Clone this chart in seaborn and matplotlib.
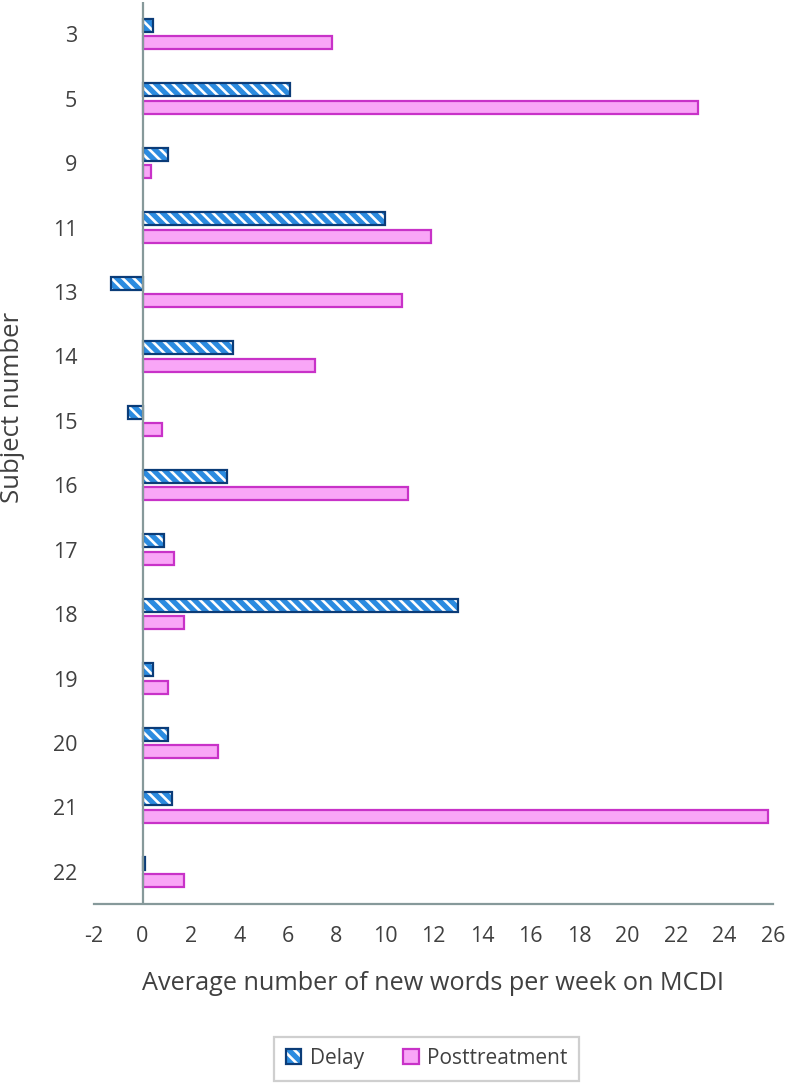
import matplotlib
matplotlib.use("Agg")
import matplotlib.pyplot as plt
from matplotlib.patches import Patch, Rectangle
from matplotlib.legend_handler import HandlerTuple
import seaborn as sns
import pandas as pd

subjects = ["3", "5", "9", "11", "13", "14", "15", "16", "17", "18", "19", "20", "21", "22"]
delay = [0.45, 6.1, 1.07, 10.0, -1.3, 3.75, -0.58, 3.5, 0.87, 13.0, 0.45, 1.07, 1.2, 0.12]
posttreatment = [7.8, 22.9, 0.33, 11.9, 10.7, 7.1, 0.8, 10.95, 1.28, 1.73, 1.07, 3.1, 25.8, 1.73]
series = ["Delay", "Posttreatment"]
xticks = list(range(-2, 27, 2))

DELAY_FILL = "#2b8be0"
DELAY_EDGE = "#0b3c78"
POST_FILL = "#f9a6f7"
POST_EDGE = "#c832c8"
AXIS_GREY = "#86999a"
TEXT = "#404040"
HATCH = "\\\\\\"

sns.set_theme(style="white")
plt.rcParams["font.family"] = ["Open Sans", "DejaVu Sans"]
plt.rcParams["hatch.linewidth"] = 1.9

df = pd.DataFrame({
    "Subject": subjects * 2,
    "Value": delay + posttreatment,
    "Series": [series[0]] * len(subjects) + [series[1]] * len(subjects),
})

fig = plt.figure(figsize=(7.87, 10.84), dpi=100)
ax = fig.add_axes([94 / 787, 1 - 904 / 1084, (773 - 94) / 787, (904 - 2) / 1084])

sns.barplot(data=df, x="Value", y="Subject", hue="Series", order=subjects,
            hue_order=series, orient="h", width=0.54, gap=0.25,
            palette=[DELAY_FILL, POST_FILL], ax=ax, legend=False, errorbar=None)

# style delay bars: white diagonal hatch + navy outline
for p in ax.containers[0]:
    p.set_facecolor(DELAY_FILL)
    p.set_edgecolor("white")
    p.set_hatch(HATCH)
    p.set_linewidth(0)
    ax.add_patch(Rectangle(p.get_xy(), p.get_width(), p.get_height(),
                           fill=False, edgecolor=DELAY_EDGE, linewidth=1.6, zorder=p.get_zorder() + 0.1))
for p in ax.containers[1]:
    p.set_facecolor(POST_FILL)
    p.set_edgecolor(POST_EDGE)
    p.set_linewidth(1.6)

ax.axvline(0, color=AXIS_GREY, linewidth=1.6, zorder=5)

ax.set_xlim(-2, 26)
ax.set_xticks(xticks)
ax.set_xticklabels([str(t) for t in xticks])
for s in ["top", "right", "left"]:
    ax.spines[s].set_visible(False)
ax.spines["bottom"].set_color(AXIS_GREY)
ax.spines["bottom"].set_linewidth(1.6)
ax.tick_params(axis="both", length=0, labelsize=15.5, labelcolor=TEXT)
ax.tick_params(axis="x", pad=16)
ax.tick_params(axis="y", pad=12)

ax.set_xlabel("Average number of new words per week on MCDI", fontsize=18.2, color=TEXT, labelpad=17)
ax.set_ylabel("Subject number", fontsize=18.5, color=TEXT)
ax.yaxis.set_label_coords(-0.102, 0.55)

h_delay = (Patch(facecolor=DELAY_FILL, edgecolor="white", hatch=HATCH, linewidth=0),
           Patch(facecolor="none", edgecolor=DELAY_EDGE, linewidth=1.6))
h_post = Patch(facecolor=POST_FILL, edgecolor=POST_EDGE, linewidth=1.6)
leg = ax.legend([h_delay, h_post], series, handler_map={tuple: HandlerTuple(ndivide=1)},
                loc="upper center", bbox_to_anchor=(0.49, -0.147), ncol=2, frameon=True,
                fancybox=False, fontsize=15, handlelength=0.75, handleheight=0.75,
                handletextpad=0.4, columnspacing=1.9, borderpad=0.55, borderaxespad=0)
leg.get_frame().set_edgecolor("#c4c4c4")
leg.get_frame().set_linewidth(1.6)
for t in leg.get_texts():
    t.set_color(TEXT)

fig.savefig("out.png", dpi=100)
